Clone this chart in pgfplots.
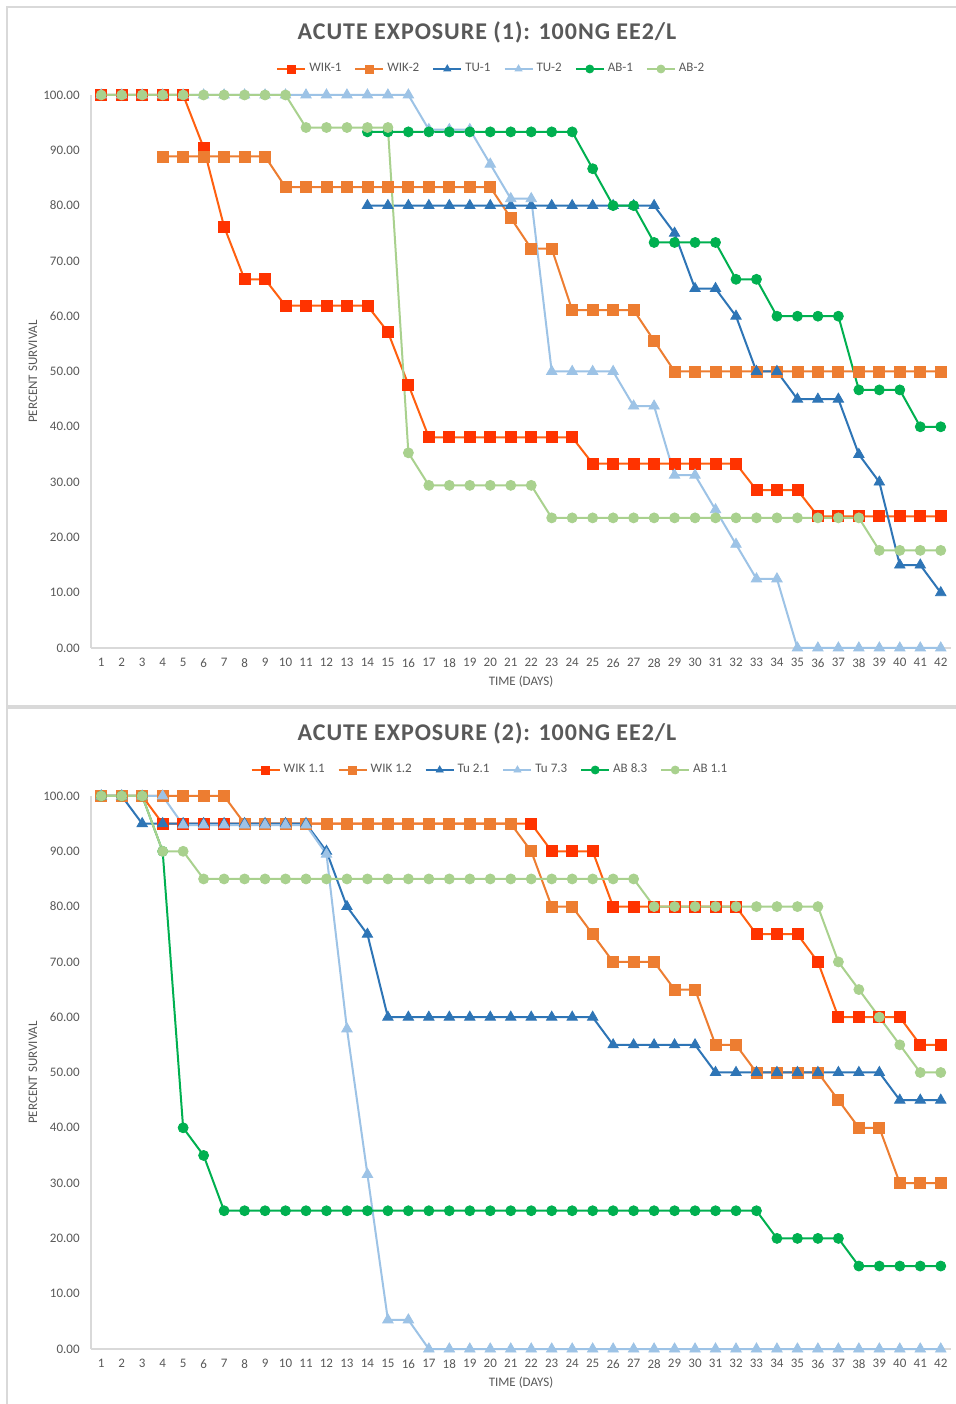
\documentclass[border=0pt]{standalone}
\usepackage{fontspec}
\setmainfont{Carlito}
\usepackage{pgfplots}
\pgfplotsset{compat=1.18}
\definecolor{wkone}{HTML}{FF3300}
\definecolor{wkoneline}{HTML}{FF6010}
\definecolor{wktwo}{HTML}{ED7D31}
\definecolor{tuone}{HTML}{2E75B6}
\definecolor{tutwo}{HTML}{9DC3E6}
\definecolor{abone}{HTML}{00B050}
\definecolor{abtwo}{HTML}{A9D18E}
\definecolor{txt}{HTML}{595959}
\definecolor{framec}{HTML}{D9D9D9}
\pgfplotsset{
  survival/.style={
    scale only axis, width=430pt, height=276.5pt,
    xmin=0.5, xmax=42.5, ymin=0, ymax=100,
    xtick={1,...,42}, ytick={0,10,...,100},
    axis x line=bottom, axis y line=left,
    axis line style={-, draw=framec, line width=0.6pt},
    major tick length=0pt,
    clip=false,
    /pgf/number format/assume math mode=true,
    tick label style={font=\fontsize{6.5}{7}\selectfont, text=txt, inner sep=0pt},
    yticklabel style={/pgf/number format/.cd, fixed, fixed zerofill, precision=2},
    yticklabel shift=5.5pt,
    xticklabel shift=5pt,
    xlabel={TIME (DAYS)}, ylabel={PERCENT SURVIVAL},
    label style={font=\fontsize{6.5}{7}\selectfont, text=txt},
    xlabel style={at={([yshift=-17pt]axis description cs:0.5,0)}, anchor=center},
    ylabel style={at={([xshift=-29pt]axis description cs:0,0.5)}, anchor=center},
    legend columns=-1,
    legend style={draw=none, fill=none, font=\fontsize{6.5}{7}\selectfont, text=txt, anchor=center,
      /tikz/every even column/.append style={column sep=5pt},
      nodes={inner sep=1.5pt}},
    legend image code/.code={\draw[mark repeat=2,mark phase=2,mark size=2pt] plot coordinates {(0pt,0pt) (7pt,0pt) (14pt,0pt)};},
    every axis plot/.append style={line width=1pt},
  },
  s1/.style={color=wkoneline, mark=square*, mark size=2.75pt, mark options={fill=wkone, draw=wkone, line width=0.4pt}},
  s2/.style={color=wktwo, mark=square*, mark size=2.75pt, mark options={fill=wktwo, draw=wktwo, line width=0.4pt}},
  s3/.style={color=tuone, mark=triangle*, mark size=3pt, mark options={fill=tuone, draw=tuone, line width=0.4pt}},
  s4/.style={color=tutwo, mark=triangle*, mark size=3pt, mark options={fill=tutwo, draw=tutwo, line width=0.4pt}},
  s5/.style={color=abone, mark=*, mark size=2.5pt, mark options={fill=abone, draw=abone, line width=0.4pt}},
  s6/.style={color=abtwo, mark=*, mark size=2.5pt, mark options={fill=abtwo, draw=abtwo, line width=0.4pt}},
}
\begin{document}
\begin{tikzpicture}
\useasboundingbox (0,0) rectangle (478pt,702pt);
\fill[white] (0,0) rectangle (478pt,702pt);
\draw[framec, line width=0.7pt] (3.5pt,349pt) rectangle (485pt,698.5pt);
\draw[framec, line width=0.7pt] (3.5pt,-5pt) rectangle (485pt,348pt);
\node[font=\fontsize{12}{14}\selectfont\bfseries\addfontfeature{LetterSpace=4}, text=txt] at (243.5pt,686pt) {ACUTE EXPOSURE (1): 100NG EE2/L};
\node[font=\fontsize{12}{14}\selectfont\bfseries\addfontfeature{LetterSpace=4}, text=txt] at (243.5pt,335.5pt) {ACUTE EXPOSURE (2): 100NG EE2/L};
% ---------------- top chart ----------------
\begin{axis}[survival, at={(45.5pt,378pt)}, anchor=south west,
  legend style={at={(0.466,1.047)}}]
\addplot[s1] coordinates {(1,100)(2,100)(3,100)(4,100)(5,100)(6,90.48)(7,76.19)(8,66.67)(9,66.67)(10,61.9)(11,61.9)(12,61.9)(13,61.9)(14,61.9)(15,57.14)(16,47.62)(17,38.1)(18,38.1)(19,38.1)(20,38.1)(21,38.1)(22,38.1)(23,38.1)(24,38.1)(25,33.33)(26,33.33)(27,33.33)(28,33.33)(29,33.33)(30,33.33)(31,33.33)(32,33.33)(33,28.57)(34,28.57)(35,28.57)(36,23.81)(37,23.81)(38,23.81)(39,23.81)(40,23.81)(41,23.81)(42,23.81)};
\addlegendentry{WIK-1}
\addplot[s2] coordinates {(4,88.89)(5,88.89)(6,88.89)(7,88.89)(8,88.89)(9,88.89)(10,83.33)(11,83.33)(12,83.33)(13,83.33)(14,83.33)(15,83.33)(16,83.33)(17,83.33)(18,83.33)(19,83.33)(20,83.33)(21,77.78)(22,72.22)(23,72.22)(24,61.11)(25,61.11)(26,61.11)(27,61.11)(28,55.56)(29,50)(30,50)(31,50)(32,50)(33,50)(34,50)(35,50)(36,50)(37,50)(38,50)(39,50)(40,50)(41,50)(42,50)};
\addlegendentry{WIK-2}
\addplot[s3] coordinates {(14,80)(15,80)(16,80)(17,80)(18,80)(19,80)(20,80)(21,80)(22,80)(23,80)(24,80)(25,80)(26,80)(27,80)(28,80)(29,75)(30,65)(31,65)(32,60)(33,50)(34,50)(35,45)(36,45)(37,45)(38,35)(39,30)(40,15)(41,15)(42,10)};
\addlegendentry{TU-1}
\addplot[s4] coordinates {(1,100)(2,100)(3,100)(4,100)(5,100)(6,100)(7,100)(8,100)(9,100)(10,100)(11,100)(12,100)(13,100)(14,100)(15,100)(16,100)(17,93.75)(18,93.75)(19,93.75)(20,87.5)(21,81.25)(22,81.25)(23,50)(24,50)(25,50)(26,50)(27,43.75)(28,43.75)(29,31.25)(30,31.25)(31,25)(32,18.75)(33,12.5)(34,12.5)(35,0)(36,0)(37,0)(38,0)(39,0)(40,0)(41,0)(42,0)};
\addlegendentry{TU-2}
\addplot[s5] coordinates {(14,93.33)(15,93.33)(16,93.33)(17,93.33)(18,93.33)(19,93.33)(20,93.33)(21,93.33)(22,93.33)(23,93.33)(24,93.33)(25,86.67)(26,80)(27,80)(28,73.33)(29,73.33)(30,73.33)(31,73.33)(32,66.67)(33,66.67)(34,60)(35,60)(36,60)(37,60)(38,46.67)(39,46.67)(40,46.67)(41,40)(42,40)};
\addlegendentry{AB-1}
\addplot[s6] coordinates {(1,100)(2,100)(3,100)(4,100)(5,100)(6,100)(7,100)(8,100)(9,100)(10,100)(11,94.12)(12,94.12)(13,94.12)(14,94.12)(15,94.12)(16,35.29)(17,29.41)(18,29.41)(19,29.41)(20,29.41)(21,29.41)(22,29.41)(23,23.53)(24,23.53)(25,23.53)(26,23.53)(27,23.53)(28,23.53)(29,23.53)(30,23.53)(31,23.53)(32,23.53)(33,23.53)(34,23.53)(35,23.53)(36,23.53)(37,23.53)(38,23.53)(39,17.65)(40,17.65)(41,17.65)(42,17.65)};
\addlegendentry{AB-2}
\end{axis}
% ---------------- bottom chart ----------------
\begin{axis}[survival, at={(45.5pt,27.5pt)}, anchor=south west,
  legend style={at={(0.4645,1.047)}}]
\addplot[s1] coordinates {(1,100)(2,100)(3,100)(4,95)(5,95)(6,95)(7,95)(8,95)(9,95)(10,95)(11,95)(12,95)(13,95)(14,95)(15,95)(16,95)(17,95)(18,95)(19,95)(20,95)(21,95)(22,95)(23,90)(24,90)(25,90)(26,80)(27,80)(28,80)(29,80)(30,80)(31,80)(32,80)(33,75)(34,75)(35,75)(36,70)(37,60)(38,60)(39,60)(40,60)(41,55)(42,55)};
\addlegendentry{WIK 1.1}
\addplot[s2] coordinates {(1,100)(2,100)(3,100)(4,100)(5,100)(6,100)(7,100)(8,95)(9,95)(10,95)(11,95)(12,95)(13,95)(14,95)(15,95)(16,95)(17,95)(18,95)(19,95)(20,95)(21,95)(22,90)(23,80)(24,80)(25,75)(26,70)(27,70)(28,70)(29,65)(30,65)(31,55)(32,55)(33,50)(34,50)(35,50)(36,50)(37,45)(38,40)(39,40)(40,30)(41,30)(42,30)};
\addlegendentry{WIK 1.2}
\addplot[s3] coordinates {(1,100)(2,100)(3,95)(4,95)(5,95)(6,95)(7,95)(8,95)(9,95)(10,95)(11,95)(12,90)(13,80)(14,75)(15,60)(16,60)(17,60)(18,60)(19,60)(20,60)(21,60)(22,60)(23,60)(24,60)(25,60)(26,55)(27,55)(28,55)(29,55)(30,55)(31,50)(32,50)(33,50)(34,50)(35,50)(36,50)(37,50)(38,50)(39,50)(40,45)(41,45)(42,45)};
\addlegendentry{Tu 2.1}
\addplot[s4] coordinates {(1,100)(2,100)(3,100)(4,100)(5,94.74)(6,94.74)(7,94.74)(8,94.74)(9,94.74)(10,94.74)(11,94.74)(12,89.47)(13,57.89)(14,31.58)(15,5.26)(16,5.26)(17,0)(18,0)(19,0)(20,0)(21,0)(22,0)(23,0)(24,0)(25,0)(26,0)(27,0)(28,0)(29,0)(30,0)(31,0)(32,0)(33,0)(34,0)(35,0)(36,0)(37,0)(38,0)(39,0)(40,0)(41,0)(42,0)};
\addlegendentry{Tu 7.3}
\addplot[s5] coordinates {(1,100)(2,100)(3,100)(4,90)(5,40)(6,35)(7,25)(8,25)(9,25)(10,25)(11,25)(12,25)(13,25)(14,25)(15,25)(16,25)(17,25)(18,25)(19,25)(20,25)(21,25)(22,25)(23,25)(24,25)(25,25)(26,25)(27,25)(28,25)(29,25)(30,25)(31,25)(32,25)(33,25)(34,20)(35,20)(36,20)(37,20)(38,15)(39,15)(40,15)(41,15)(42,15)};
\addlegendentry{AB 8.3}
\addplot[s6] coordinates {(1,100)(2,100)(3,100)(4,90)(5,90)(6,85)(7,85)(8,85)(9,85)(10,85)(11,85)(12,85)(13,85)(14,85)(15,85)(16,85)(17,85)(18,85)(19,85)(20,85)(21,85)(22,85)(23,85)(24,85)(25,85)(26,85)(27,85)(28,80)(29,80)(30,80)(31,80)(32,80)(33,80)(34,80)(35,80)(36,80)(37,70)(38,65)(39,60)(40,55)(41,50)(42,50)};
\addlegendentry{AB 1.1}
\end{axis}
\end{tikzpicture}
\end{document}
